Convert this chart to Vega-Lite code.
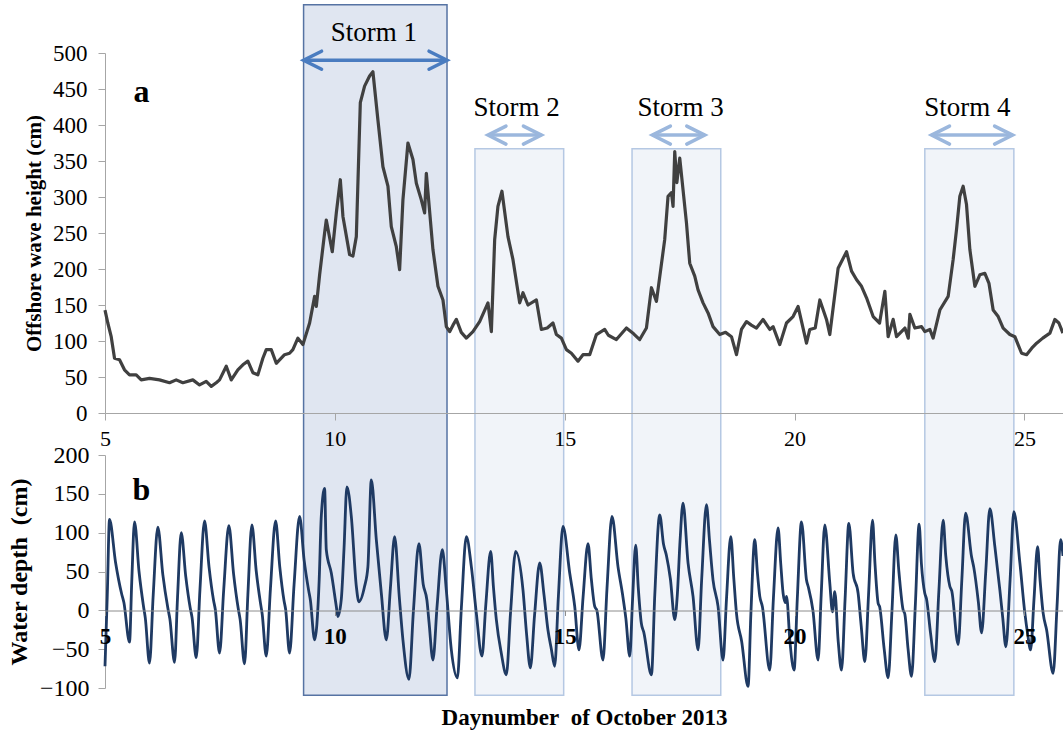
{
  "$schema": "https://vega.github.io/schema/vega-lite/v6.json",
  "width": 958,
  "height": 690,
  "autosize": {"type": "none"},
  "padding": {"left": 105, "top": 5, "right": 0, "bottom": 36},
  "background": "white",
  "config": {
    "view": {"stroke": null},
    "font": "Liberation Serif",
    "axis": {"labelFont": "Liberation Serif", "titleFont": "Liberation Serif", "grid": false, "labelColor": "black", "titleColor": "black"},
    "text": {"font": "Liberation Serif"}
  },
  "datasets": {
    "wave": [
      {"day":5.000,"h":143},{"day":5.061,"h":125},{"day":5.135,"h":106},{"day":5.207,"h":76},{"day":5.316,"h":74},{"day":5.424,"h":60},{"day":5.533,"h":53},{"day":5.679,"h":53},{"day":5.788,"h":46},{"day":5.968,"h":48},{"day":6.186,"h":46},{"day":6.404,"h":42},{"day":6.549,"h":46},{"day":6.693,"h":42},{"day":6.911,"h":46},{"day":7.057,"h":39},{"day":7.202,"h":44},{"day":7.311,"h":37},{"day":7.420,"h":42},{"day":7.492,"h":46},{"day":7.638,"h":65},{"day":7.747,"h":46},{"day":7.890,"h":60},{"day":7.999,"h":67},{"day":8.108,"h":72},{"day":8.217,"h":56},{"day":8.325,"h":53},{"day":8.434,"h":76},{"day":8.508,"h":88},{"day":8.617,"h":88},{"day":8.726,"h":69},{"day":8.906,"h":81},{"day":9.015,"h":83},{"day":9.087,"h":88},{"day":9.196,"h":104},{"day":9.305,"h":95},{"day":9.451,"h":125},{"day":9.560,"h":162},{"day":9.597,"h":148},{"day":9.669,"h":192},{"day":9.777,"h":250},{"day":9.814,"h":268},{"day":9.944,"h":224},{"day":10.032,"h":278},{"day":10.119,"h":324},{"day":10.176,"h":273},{"day":10.321,"h":220},{"day":10.393,"h":218},{"day":10.467,"h":245},{"day":10.554,"h":431},{"day":10.647,"h":454},{"day":10.756,"h":468},{"day":10.828,"h":474},{"day":10.937,"h":407},{"day":11.046,"h":342},{"day":11.155,"h":315},{"day":11.228,"h":259},{"day":11.337,"h":231},{"day":11.409,"h":199},{"day":11.481,"h":296},{"day":11.590,"h":375},{"day":11.699,"h":352},{"day":11.773,"h":319},{"day":11.881,"h":296},{"day":11.953,"h":278},{"day":11.990,"h":333},{"day":12.134,"h":227},{"day":12.243,"h":176},{"day":12.352,"h":157},{"day":12.425,"h":120},{"day":12.497,"h":113},{"day":12.570,"h":122},{"day":12.643,"h":130},{"day":12.750,"h":112},{"day":12.861,"h":104},{"day":13.004,"h":113},{"day":13.150,"h":127},{"day":13.331,"h":153},{"day":13.405,"h":113},{"day":13.477,"h":241},{"day":13.548,"h":287},{"day":13.635,"h":308},{"day":13.766,"h":245},{"day":13.875,"h":213},{"day":14.021,"h":153},{"day":14.093,"h":167},{"day":14.201,"h":150},{"day":14.384,"h":157},{"day":14.493,"h":116},{"day":14.620,"h":118},{"day":14.745,"h":125},{"day":14.819,"h":109},{"day":14.928,"h":104},{"day":15.037,"h":88},{"day":15.146,"h":83},{"day":15.289,"h":72},{"day":15.398,"h":81},{"day":15.544,"h":81},{"day":15.690,"h":109},{"day":15.870,"h":116},{"day":15.950,"h":108},{"day":16.125,"h":102},{"day":16.343,"h":118},{"day":16.500,"h":110},{"day":16.632,"h":102},{"day":16.778,"h":118},{"day":16.887,"h":174},{"day":16.996,"h":155},{"day":17.176,"h":241},{"day":17.248,"h":301},{"day":17.322,"h":306},{"day":17.357,"h":287},{"day":17.394,"h":363},{"day":17.440,"h":320},{"day":17.503,"h":354},{"day":17.649,"h":264},{"day":17.720,"h":208},{"day":17.829,"h":190},{"day":17.901,"h":171},{"day":18.010,"h":153},{"day":18.119,"h":139},{"day":18.227,"h":120},{"day":18.373,"h":109},{"day":18.500,"h":112},{"day":18.628,"h":106},{"day":18.737,"h":81},{"day":18.845,"h":116},{"day":18.954,"h":127},{"day":19.060,"h":122},{"day":19.172,"h":118},{"day":19.315,"h":130},{"day":19.461,"h":116},{"day":19.533,"h":120},{"day":19.679,"h":95},{"day":19.825,"h":125},{"day":19.968,"h":134},{"day":20.077,"h":148},{"day":20.260,"h":97},{"day":20.332,"h":116},{"day":20.450,"h":118},{"day":20.550,"h":157},{"day":20.695,"h":130},{"day":20.767,"h":109},{"day":20.948,"h":201},{"day":21.131,"h":224},{"day":21.240,"h":197},{"day":21.350,"h":185},{"day":21.457,"h":176},{"day":21.566,"h":160},{"day":21.710,"h":134},{"day":21.850,"h":125},{"day":21.965,"h":169},{"day":22.036,"h":106},{"day":22.145,"h":130},{"day":22.219,"h":106},{"day":22.401,"h":118},{"day":22.474,"h":104},{"day":22.509,"h":137},{"day":22.617,"h":118},{"day":22.763,"h":120},{"day":22.835,"h":113},{"day":22.944,"h":116},{"day":23.015,"h":104},{"day":23.161,"h":143},{"day":23.342,"h":162},{"day":23.450,"h":213},{"day":23.524,"h":255},{"day":23.596,"h":301},{"day":23.668,"h":315},{"day":23.740,"h":290},{"day":23.814,"h":227},{"day":23.923,"h":176},{"day":24.031,"h":192},{"day":24.140,"h":194},{"day":24.230,"h":180},{"day":24.321,"h":143},{"day":24.430,"h":134},{"day":24.538,"h":118},{"day":24.684,"h":109},{"day":24.793,"h":106},{"day":24.939,"h":83},{"day":25.048,"h":81},{"day":25.160,"h":90},{"day":25.266,"h":97},{"day":25.400,"h":104},{"day":25.555,"h":111},{"day":25.664,"h":130},{"day":25.750,"h":125},{"day":25.838,"h":111}
    ],
    "depth": [
      {"day":5.000,"d":-72},{"day":5.050,"d":20},{"day":5.098,"d":117},{"day":5.229,"d":62},{"day":5.359,"d":22},{"day":5.411,"d":10},{"day":5.533,"d":-41},{"day":5.582,"d":37},{"day":5.642,"d":114},{"day":5.740,"d":50},{"day":5.838,"d":5},{"day":5.877,"d":-10},{"day":5.968,"d":-68},{"day":6.049,"d":20},{"day":6.149,"d":107},{"day":6.258,"d":46},{"day":6.367,"d":3},{"day":6.411,"d":-11},{"day":6.513,"d":-67},{"day":6.578,"d":17},{"day":6.658,"d":100},{"day":6.756,"d":44},{"day":6.854,"d":3},{"day":6.893,"d":-9},{"day":6.985,"d":-61},{"day":7.066,"d":27},{"day":7.165,"d":115},{"day":7.263,"d":56},{"day":7.361,"d":13},{"day":7.400,"d":1},{"day":7.492,"d":-55},{"day":7.583,"d":27},{"day":7.694,"d":109},{"day":7.797,"d":47},{"day":7.899,"d":2},{"day":7.940,"d":-12},{"day":8.036,"d":-69},{"day":8.108,"d":20},{"day":8.195,"d":110},{"day":8.289,"d":51},{"day":8.383,"d":9},{"day":8.420,"d":-5},{"day":8.508,"d":-59},{"day":8.599,"d":28},{"day":8.711,"d":115},{"day":8.802,"d":56},{"day":8.893,"d":13},{"day":8.930,"d":1},{"day":9.015,"d":-55},{"day":9.113,"d":33},{"day":9.233,"d":121},{"day":9.331,"d":65},{"day":9.429,"d":26},{"day":9.468,"d":13},{"day":9.559,"d":-38},{"day":9.660,"d":40},{"day":9.705,"d":121},{"day":9.777,"d":157},{"day":9.814,"d":78},{"day":9.923,"d":48},{"day":10.032,"d":5},{"day":10.066,"d":-8},{"day":10.140,"d":14},{"day":10.200,"d":80},{"day":10.262,"d":159},{"day":10.358,"d":121},{"day":10.467,"d":31},{"day":10.523,"d":11},{"day":10.647,"d":31},{"day":10.719,"d":56},{"day":10.793,"d":168},{"day":10.902,"d":91},{"day":11.011,"d":22},{"day":11.120,"d":-38},{"day":11.210,"d":30},{"day":11.300,"d":95},{"day":11.401,"d":18},{"day":11.481,"d":-38},{"day":11.612,"d":-89},{"day":11.710,"d":0},{"day":11.829,"d":86},{"day":11.921,"d":34},{"day":12.003,"d":13},{"day":12.050,"d":-16},{"day":12.134,"d":-64},{"day":12.226,"d":7},{"day":12.338,"d":78},{"day":12.425,"d":26},{"day":12.534,"d":-51},{"day":12.665,"d":-87},{"day":12.753,"d":4},{"day":12.861,"d":95},{"day":12.970,"d":56},{"day":13.078,"d":-4},{"day":13.200,"d":-59},{"day":13.285,"d":8},{"day":13.390,"d":76},{"day":13.450,"d":30},{"day":13.513,"d":-12},{"day":13.620,"d":-55},{"day":13.731,"d":-83},{"day":13.822,"d":-3},{"day":13.934,"d":76},{"day":14.093,"d":26},{"day":14.170,"d":-30},{"day":14.253,"d":-74},{"day":14.345,"d":-6},{"day":14.456,"d":61},{"day":14.550,"d":20},{"day":14.635,"d":-25},{"day":14.710,"d":-50},{"day":14.782,"d":-72},{"day":14.863,"d":18},{"day":14.963,"d":108},{"day":15.109,"d":48},{"day":15.218,"d":5},{"day":15.311,"d":-51},{"day":15.400,"d":17},{"day":15.507,"d":86},{"day":15.580,"d":40},{"day":15.653,"d":5},{"day":15.700,"d":0},{"day":15.833,"d":-64},{"day":15.920,"d":28},{"day":16.029,"d":121},{"day":16.160,"d":56},{"day":16.260,"d":20},{"day":16.330,"d":-10},{"day":16.415,"d":-59},{"day":16.475,"d":12},{"day":16.545,"d":84},{"day":16.600,"d":30},{"day":16.668,"d":-17},{"day":16.720,"d":-28},{"day":16.887,"d":-83},{"day":16.960,"d":20},{"day":17.067,"d":123},{"day":17.150,"d":85},{"day":17.212,"d":71},{"day":17.300,"d":40},{"day":17.394,"d":-12},{"day":17.450,"d":20},{"day":17.510,"d":90},{"day":17.574,"d":138},{"day":17.683,"d":61},{"day":17.792,"d":18},{"day":17.901,"d":-51},{"day":17.980,"d":40},{"day":18.084,"d":136},{"day":18.150,"d":90},{"day":18.227,"d":39},{"day":18.336,"d":5},{"day":18.445,"d":-64},{"day":18.520,"d":15},{"day":18.613,"d":95},{"day":18.680,"d":40},{"day":18.737,"d":-4},{"day":18.850,"d":-40},{"day":18.989,"d":-98},{"day":19.050,"d":-5},{"day":19.135,"d":91},{"day":19.190,"d":50},{"day":19.244,"d":18},{"day":19.300,"d":5},{"day":19.461,"d":-77},{"day":19.540,"d":15},{"day":19.642,"d":106},{"day":19.700,"d":60},{"day":19.751,"d":22},{"day":19.800,"d":10},{"day":19.826,"d":18},{"day":19.900,"d":-40},{"day":19.990,"d":-77},{"day":20.060,"d":15},{"day":20.151,"d":114},{"day":20.260,"d":39},{"day":20.300,"d":30},{"day":20.400,"d":0},{"day":20.512,"d":-64},{"day":20.580,"d":20},{"day":20.658,"d":110},{"day":20.767,"d":35},{"day":20.825,"d":-2},{"day":20.875,"d":24},{"day":20.950,"d":-40},{"day":21.022,"d":-77},{"day":21.100,"d":15},{"day":21.181,"d":112},{"day":21.274,"d":48},{"day":21.383,"d":22},{"day":21.450,"d":-20},{"day":21.529,"d":-66},{"day":21.610,"d":20},{"day":21.696,"d":116},{"day":21.750,"d":60},{"day":21.819,"d":9},{"day":21.850,"d":5},{"day":21.950,"d":-50},{"day":22.036,"d":-87},{"day":22.120,"d":0},{"day":22.203,"d":97},{"day":22.270,"d":50},{"day":22.360,"d":1},{"day":22.400,"d":-5},{"day":22.470,"d":-50},{"day":22.545,"d":-85},{"day":22.630,"d":10},{"day":22.710,"d":111},{"day":22.760,"d":60},{"day":22.833,"d":22},{"day":22.870,"d":15},{"day":22.960,"d":-30},{"day":23.052,"d":-66},{"day":23.140,"d":25},{"day":23.233,"d":116},{"day":23.290,"d":70},{"day":23.378,"d":31},{"day":23.420,"d":25},{"day":23.559,"d":-44},{"day":23.640,"d":40},{"day":23.721,"d":125},{"day":23.851,"d":69},{"day":23.900,"d":55},{"day":24.000,"d":10},{"day":24.069,"d":-29},{"day":24.160,"d":50},{"day":24.249,"d":131},{"day":24.358,"d":82},{"day":24.467,"d":26},{"day":24.530,"d":-10},{"day":24.597,"d":-47},{"day":24.690,"d":40},{"day":24.771,"d":127},{"day":24.902,"d":61},{"day":25.011,"d":-4},{"day":25.070,"d":-30},{"day":25.135,"d":-51},{"day":25.210,"d":15},{"day":25.287,"d":82},{"day":25.340,"d":40},{"day":25.409,"d":-4},{"day":25.483,"d":-25},{"day":25.626,"d":-81},{"day":25.710,"d":5},{"day":25.788,"d":91},{"day":25.840,"d":70}
    ],
    "storms": [
      {"storm":"Storm 1","start":9.32,"end":12.44,"top":567,"arrowStart":9.32,"arrowEnd":12.44,"arrowY":490,"labelX":10.85,"labelY":528},
      {"storm":"Storm 2","start":13.048,"end":14.978,"top":367,"arrowStart":13.331,"arrowEnd":14.493,"arrowY":386,"labelX":13.956,"labelY":424},
      {"storm":"Storm 3","start":16.465,"end":18.395,"top":367,"arrowStart":16.908,"arrowEnd":18.047,"arrowY":386,"labelX":17.52,"labelY":424},
      {"storm":"Storm 4","start":22.834,"end":24.771,"top":367,"arrowStart":22.98,"arrowEnd":24.743,"arrowY":386,"labelX":23.76,"labelY":424}
    ],
    "panels": [
      {"panel":"a","day":5.794,"h":446},
      {"panel":"b","day":5.794,"d":155}
    ]
  },
  "layer": [
    {
      "data": {"name": "storms"},
      "mark": {"type": "rect", "strokeWidth": 1.5},
      "encoding": {
        "x": {"field": "start", "type": "quantitative", "scale": {"domain": [5, 25.84], "nice": false, "zero": false}, "axis": null},
        "x2": {"field": "end"},
        "y": {"field": "top", "type": "quantitative", "scale": {"domain": [0, 500], "range": [408, 48], "nice": false, "zero": false}, "axis": null},
        "y2": {"datum": -392},
        "fill": {"condition": {"test": "datum.storm === 'Storm 1'", "value": "#e0e6f1"}, "value": "#f1f4f9"},
        "stroke": {"condition": {"test": "datum.storm === 'Storm 1'", "value": "#5673a3"}, "value": "#b5c8e3"}
      }
    },
    {
      "data": {"name": "wave"},
      "mark": {"type": "line", "color": "#404040", "strokeWidth": 3.2, "strokeJoin": "round"},
      "encoding": {
        "x": {"field": "day", "type": "quantitative",
          "axis": {"orient": "bottom", "offset": -282, "values": [5, 10, 15, 20, 25], "format": "d", "title": null, "labelFontSize": 22, "labelPadding": 8, "labelFlush": false, "tickSize": 7, "domainColor": "#a6a6a6", "tickColor": "#a6a6a6", "zindex": 1}},
        "y": {"field": "h", "type": "quantitative", "scale": {"domain": [0, 500], "range": [408, 48], "nice": false, "zero": false},
          "axis": {"orient": "left", "values": [0, 50, 100, 150, 200, 250, 300, 350, 400, 450, 500], "title": "Offshore wave height (cm)", "titleFontSize": 21, "titleFontWeight": "bold", "titlePadding": 8, "labelFontSize": 23, "labelPadding": 11, "tickSize": 7, "domainColor": "#a6a6a6", "tickColor": "#a6a6a6"}}
      }
    },
    {
      "data": {"name": "storms"},
      "mark": {"type": "rule", "strokeWidth": 3.5},
      "encoding": {
        "x": {"field": "arrowStart", "type": "quantitative", "axis": null},
        "x2": {"field": "arrowEnd"},
        "y": {"field": "arrowY", "type": "quantitative", "scale": {"domain": [0, 500], "range": [408, 48], "nice": false, "zero": false}, "axis": null},
        "stroke": {"condition": {"test": "datum.storm === 'Storm 1'", "value": "#4a7cc0"}, "value": "#9bb7dd"}
      }
    },
    {
      "data": {"name": "storms"},
      "mark": {"type": "point", "shape": "M2,-1L0,0L2,1", "size": 324, "filled": false, "opacity": 1, "strokeWidth": 3.5, "strokeCap": "round"},
      "encoding": {
        "x": {"field": "arrowStart", "type": "quantitative", "axis": null},
        "y": {"field": "arrowY", "type": "quantitative", "scale": {"domain": [0, 500], "range": [408, 48], "nice": false, "zero": false}, "axis": null},
        "stroke": {"condition": {"test": "datum.storm === 'Storm 1'", "value": "#4a7cc0"}, "value": "#9bb7dd"}
      }
    },
    {
      "data": {"name": "storms"},
      "mark": {"type": "point", "shape": "M-2,-1L0,0L-2,1", "size": 324, "filled": false, "opacity": 1, "strokeWidth": 3.5, "strokeCap": "round"},
      "encoding": {
        "x": {"field": "arrowEnd", "type": "quantitative", "axis": null},
        "y": {"field": "arrowY", "type": "quantitative", "scale": {"domain": [0, 500], "range": [408, 48], "nice": false, "zero": false}, "axis": null},
        "stroke": {"condition": {"test": "datum.storm === 'Storm 1'", "value": "#4a7cc0"}, "value": "#9bb7dd"}
      }
    },
    {
      "data": {"name": "storms"},
      "mark": {"type": "text", "fontSize": 27, "color": "black", "baseline": "middle", "align": "center"},
      "encoding": {
        "x": {"field": "labelX", "type": "quantitative", "axis": null},
        "y": {"field": "labelY", "type": "quantitative", "scale": {"domain": [0, 500], "range": [408, 48], "nice": false, "zero": false}, "axis": null},
        "text": {"field": "storm"}
      }
    },
    {
      "data": {"name": "panels"},
      "transform": [{"filter": "datum.panel === 'a'"}],
      "mark": {"type": "text", "fontSize": 32, "fontWeight": "bold", "color": "black", "baseline": "middle", "align": "center"},
      "encoding": {
        "x": {"field": "day", "type": "quantitative", "axis": null},
        "y": {"field": "h", "type": "quantitative", "scale": {"domain": [0, 500], "range": [408, 48], "nice": false, "zero": false}, "axis": null},
        "text": {"field": "panel"}
      }
    },
    {
      "data": {"name": "depth"},
      "mark": {"type": "line", "color": "#1f3a63", "strokeWidth": 2.8, "strokeJoin": "round", "interpolate": "monotone"},
      "encoding": {
        "x": {"field": "day", "type": "quantitative",
          "axis": {"orient": "bottom", "offset": -84.5, "values": [5, 10, 15, 20, 25], "format": "d", "title": "Daynumber\u00a0 of October 2013", "titleFontSize": 23, "titleFontWeight": "bold", "titlePadding": 58, "labelFontSize": 23, "labelFontWeight": "bold", "labelPadding": 10, "labelFlush": false, "tickSize": 5, "domainColor": "#8c8c8c", "tickColor": "#8c8c8c", "zindex": 1}},
        "y": {"field": "d", "type": "quantitative", "scale": {"domain": [-100, 200], "range": [683, 450], "nice": false, "zero": false},
          "axis": {"orient": "left", "values": [-100, -50, 0, 50, 100, 150, 200], "title": "Water depth\u00a0 (cm)", "titleFontSize": 24, "titleFontWeight": "bold", "titlePadding": 8, "labelFontSize": 24, "labelPadding": 9, "tickSize": 7, "domainColor": "#a6a6a6", "tickColor": "#a6a6a6"}}
      }
    },
    {
      "data": {"name": "panels"},
      "transform": [{"filter": "datum.panel === 'b'"}],
      "mark": {"type": "text", "fontSize": 32, "fontWeight": "bold", "color": "black", "baseline": "middle", "align": "center"},
      "encoding": {
        "x": {"field": "day", "type": "quantitative", "axis": null},
        "y": {"field": "d", "type": "quantitative", "scale": {"domain": [-100, 200], "range": [683, 450], "nice": false, "zero": false}, "axis": null},
        "text": {"field": "panel"}
      }
    }
  ],
  "resolve": {"scale": {"y": "independent"}, "axis": {"x": "independent", "y": "independent"}}
}
